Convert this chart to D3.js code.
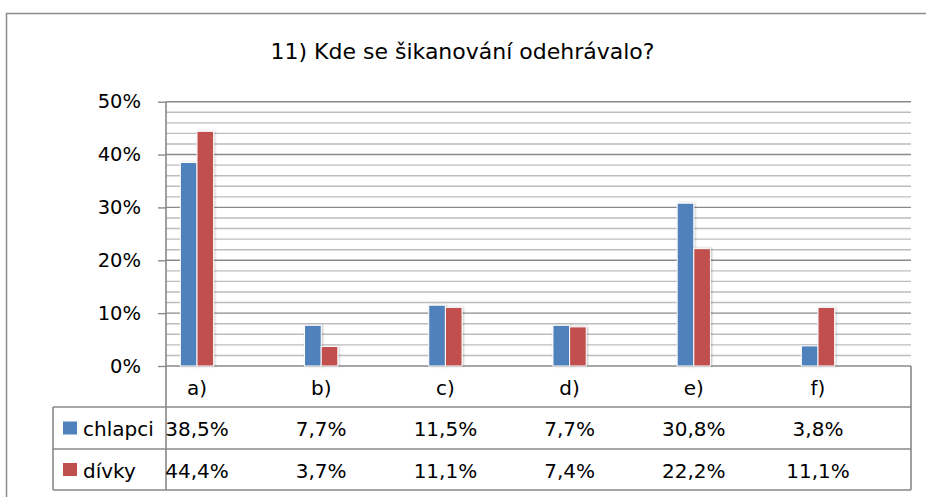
<!DOCTYPE html>
<html>
<head>
<meta charset="utf-8">
<script src="https://cdn.jsdelivr.net/npm/d3@7"></script>
<style>
  html, body { margin: 0; padding: 0; background: #fff; }
  svg { display: block; }
  text { font-family: "DejaVu Sans", sans-serif; fill: #000; }
</style>
</head>
<body>
<svg id="chart" width="926" height="497"></svg>
<script>
// ---- data ----
const title = "11) Kde se šikanování odehrávalo?";
const categories = ["a)", "b)", "c)", "d)", "e)", "f)"];
const seriesNames = ["chlapci", "dívky"];
const chlapci = [38.5, 7.7, 11.5, 7.7, 30.8, 3.8];
const divky = [44.4, 3.7, 11.1, 7.4, 22.2, 11.1];
const yTicks = [0, 10, 20, 30, 40, 50];
const colors = ["#4F81BD", "#C0504D"];

const seriesValues = [chlapci, divky];
const rows = categories.map((c, i) => ({ cat: c, values: seriesValues.map(s => s[i]) }));

const cz = d3.formatLocale({ decimal: ",", thousands: " ", grouping: [3], currency: ["", " Kč"] });
const fmt = v => cz.format(".1f")(v) + "%";

const svg = d3.select("#chart");

// layout
const plotLeft = 166, plotRight = 911;
const yTop = 101.7, yBottom = 366;
const tableRows = [366, 407, 449, 490];
const legendLeft = 53;

const y = d3.scaleLinear().domain([0, 50]).range([yBottom, yTop]);
const x = d3.scaleBand().domain(categories).range([134.9, 880.1]).paddingInner(0.732).paddingOuter(0.366);
const x1 = d3.scaleBand().domain(seriesNames).range([0, x.bandwidth()]).padding(0);

const gridMajor = "#8a8a8a", gridMinor = "#bdbdbd", lineCol = "#888";

// outer chart border
svg.append("rect").attr("x", 6.5).attr("y", 13.5).attr("width", 1000).attr("height", 1000)
  .attr("fill", "none").attr("stroke", "#8c8c8c").attr("stroke-width", 1.5);

// title
svg.append("text").attr("x", 462.5).attr("y", 59).attr("text-anchor", "middle")
  .style("font-size", "22px").text(title);

// shadow filter
const defs = svg.append("defs");
const f = defs.append("filter").attr("id", "shadow").attr("x", "-30%").attr("y", "-10%").attr("width", "160%").attr("height", "130%");
f.append("feDropShadow").attr("dx", 1).attr("dy", 0).attr("stdDeviation", 1.2).attr("flood-color", "#000").attr("flood-opacity", 0.25);

// minor gridlines
const minor = y.ticks(25).filter(v => v % 10 !== 0);
svg.append("g").selectAll("line").data(minor).join("line")
  .attr("x1", plotLeft).attr("x2", plotRight)
  .attr("y1", d => y(d)).attr("y2", d => y(d))
  .attr("stroke", gridMinor).attr("stroke-width", 1.4);

// major gridlines
svg.append("g").selectAll("line").data(yTicks).join("line")
  .attr("x1", plotLeft).attr("x2", plotRight)
  .attr("y1", d => y(d)).attr("y2", d => y(d))
  .attr("stroke", gridMajor).attr("stroke-width", 1.4);

// y axis
const yAxis = svg.append("g").attr("transform", `translate(${plotLeft},0)`)
  .call(d3.axisLeft(y).tickValues(yTicks).tickSize(8).tickPadding(17).tickFormat(d => d + "%"));
yAxis.select(".domain").remove();
yAxis.selectAll(".tick line").attr("stroke", gridMajor).attr("stroke-width", 1.4);
yAxis.selectAll(".tick text").style("font-size", "19.5px").attr("font-family", "DejaVu Sans").attr("fill", "#000");

// bars
const groups = svg.append("g").selectAll("g").data(rows).join("g")
  .attr("transform", d => `translate(${x(d.cat)},0)`);
groups.selectAll("rect").data(d => d.values.map((v, i) => ({ key: seriesNames[i], v, i }))).join("rect")
  .attr("x", d => x1(d.key))
  .attr("width", x1.bandwidth())
  .attr("y", d => y(d.v))
  .attr("height", d => y(0) - y(d.v))
  .attr("fill", d => colors[d.i])
  .attr("stroke", "#fff").attr("stroke-width", 1)
  .attr("filter", "url(#shadow)");

// data table lines
const tbl = svg.append("g").attr("stroke", lineCol).attr("stroke-width", 1.6).attr("fill", "none");
// vertical axis line through the table
tbl.append("line").attr("x1", plotLeft).attr("x2", plotLeft).attr("y1", yTop).attr("y2", tableRows[3]);
// right border of table
tbl.append("line").attr("x1", plotRight).attr("x2", plotRight).attr("y1", tableRows[0]).attr("y2", tableRows[3]);
// horizontal row lines
[tableRows[1], tableRows[2], tableRows[3]].forEach(ry => {
  tbl.append("line").attr("x1", legendLeft).attr("x2", plotRight).attr("y1", ry).attr("y2", ry);
});
// legend column left border
tbl.append("line").attr("x1", legendLeft).attr("x2", legendLeft).attr("y1", tableRows[1]).attr("y2", tableRows[3]);

// category labels row
svg.append("g").selectAll("text").data(categories).join("text")
  .attr("x", d => x(d) + x.bandwidth() / 2)
  .attr("y", (tableRows[0] + tableRows[1]) / 2 + 1)
  .attr("text-anchor", "middle").attr("dominant-baseline", "central")
  .style("font-size", "20px").text(d => d);

// series rows
seriesNames.forEach((name, si) => {
  const cy = (tableRows[si + 1] + tableRows[si + 2]) / 2 + 1;
  svg.append("rect").attr("x", 63).attr("y", cy - 7.5).attr("width", 14).attr("height", 13)
    .attr("fill", colors[si]);
  svg.append("text").attr("x", 83).attr("y", cy).attr("dominant-baseline", "central")
    .style("font-size", "20px").text(name);
  svg.append("g").selectAll("text").data(rows).join("text")
    .attr("x", d => x(d.cat) + x.bandwidth() / 2)
    .attr("y", cy)
    .attr("text-anchor", "middle").attr("dominant-baseline", "central")
    .style("font-size", "20px").text(d => fmt(d.values[si]));
});
</script>
</body>
</html>
